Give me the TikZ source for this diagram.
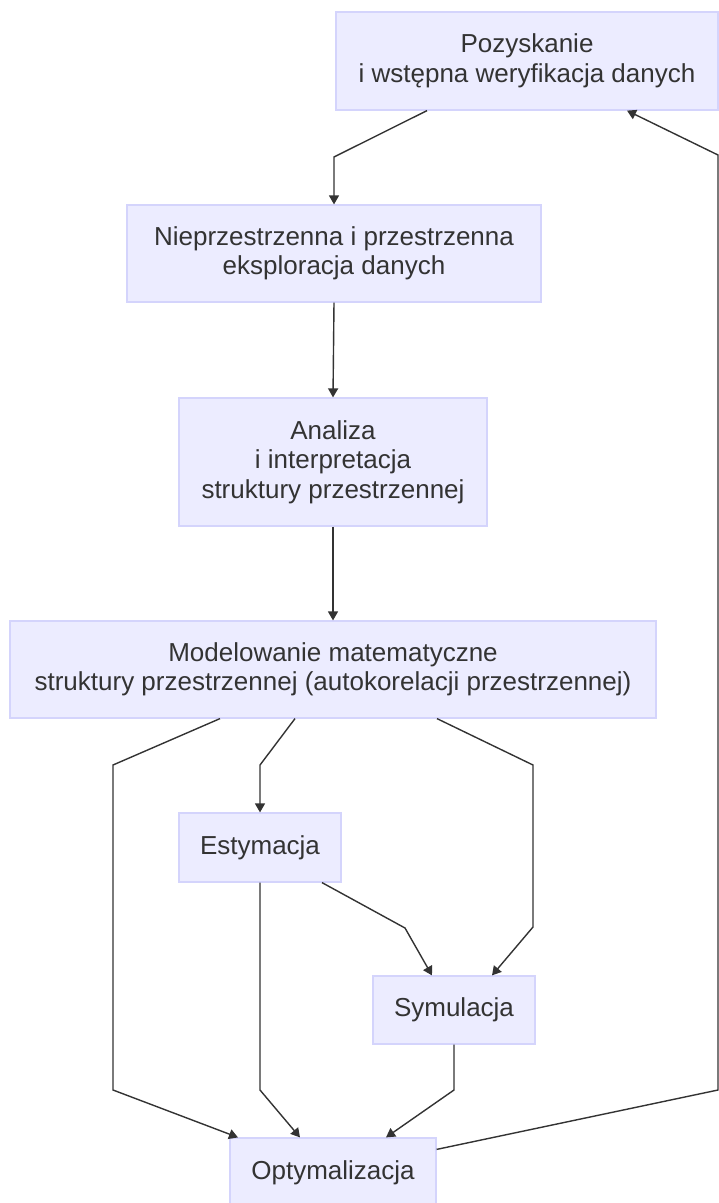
\documentclass[tikz,border=0pt]{standalone}
\usepackage{fontspec}
\setmainfont{Liberation Sans}
\usepackage{xcolor}
\usepackage{tikz}
\usetikzlibrary{arrows.meta,calc}

\definecolor{boxfill}{HTML}{ECECFF}
\definecolor{boxline}{HTML}{D4D4FC}
\definecolor{ink}{HTML}{333333}

\begin{document}
\begin{tikzpicture}[x=1pt,y=-1pt,
  box/.style={draw=boxline,line width=1.2pt,fill=boxfill,inner sep=0pt,
              align=center,text=ink,font=\fontsize{26}{29.5}\selectfont},
  arr/.style={-{Triangle[length=9pt,width=10pt]},line width=1.4pt,draw=ink}
]
\useasboundingbox (0,0) rectangle (719,1203);

\node[box,minimum width=382pt,minimum height=98pt] (dane) at (527,61)
  {Pozyskanie\\i wstępna weryfikacja danych};
\node[box,minimum width=414pt,minimum height=97pt] (eksp) at (334,253.5)
  {Nieprzestrzenna i przestrzenna\\eksploracja danych};
\node[box,minimum width=308pt,minimum height=128pt] (anal) at (333,462)
  {Analiza\\i interpretacja\\struktury przestrzennej};
\node[box,minimum width=646pt,minimum height=97pt] (model) at (333,669.5)
  {Modelowanie matematyczne\\struktury przestrzennej (autokorelacji przestrzennej)};
\node[box,minimum width=162pt,minimum height=69pt] (est) at (260,847.5) {Estymacja};
\node[box,minimum width=162pt,minimum height=68pt] (sym) at (454,1010) {Symulacja};
\node[box,minimum width=206pt,minimum height=69pt] (opt) at (333,1172.5) {Optymalizacja};

\draw[arr] ([xshift=-100pt]dane.south) -- (eksp.north |- 0,157) -- (eksp.north);
\draw[arr] (eksp.south) -- (anal.north);
\draw[arr] (anal.south) -- (model.north);
\draw[arr] ([xshift=-38pt]model.south) -- (est.north |- 0,765) -- (est.north);
\draw[arr] ([xshift=-113pt]model.south) -- (113,765) -- (113,1090) -- ([xshift=-95pt]opt.north);
\draw[arr] ([xshift=104pt]model.south) -- (533,765) -- (533,927) -- ([xshift=38pt]sym.north);
\draw[arr] ([xshift=62pt]est.south) -- (405,928) -- ([xshift=-22pt]sym.north);
\draw[arr] (est.south) -- (est.south |- 0,1090) -- ([xshift=-33pt]opt.north);
\draw[arr] (sym.south) -- (sym.south |- 0,1090) -- ([xshift=53pt]opt.north);
\draw[arr] ([yshift=-12pt]opt.north east) -- (718,1090) -- (718,155) -- ([xshift=100pt]dane.south);
\end{tikzpicture}
\end{document}
